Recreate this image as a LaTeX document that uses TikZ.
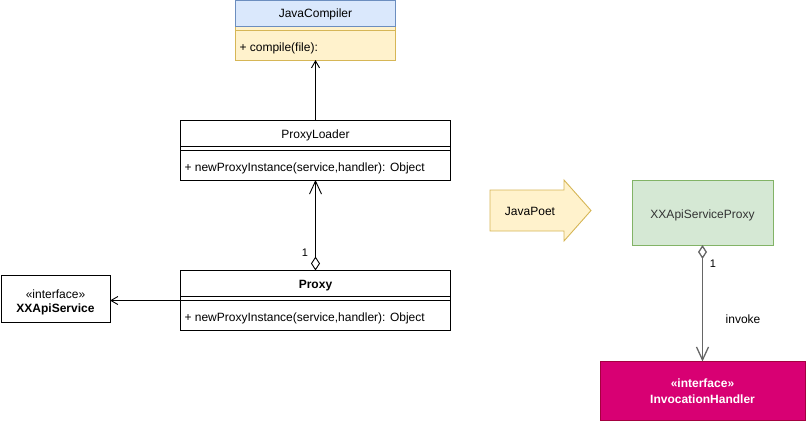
\documentclass[tikz,border=0pt]{standalone}
\usepackage{fontspec}
\setmainfont{Liberation Sans}
\usetikzlibrary{arrows.meta}
\definecolor{bluefill}{HTML}{DAE8FC}
\definecolor{bluestroke}{HTML}{6C8EBF}
\definecolor{yelfill}{HTML}{FFF2CC}
\definecolor{yelstroke}{HTML}{D6B656}
\definecolor{grnfill}{HTML}{D5E8D4}
\definecolor{grnstroke}{HTML}{82B366}
\definecolor{magfill}{HTML}{D80073}
\definecolor{magstroke}{HTML}{A50040}
\definecolor{darkline}{HTML}{666666}
\definecolor{darktext}{HTML}{333333}
\begin{document}
\begin{tikzpicture}[x=1pt,y=-1pt,
  font=\fontsize{12}{14}\selectfont,
  every node/.style={inner sep=0pt, outer sep=0pt, text height=11.7pt, text depth=2.6pt},
  classhead/.style={draw=black, fill=white, minimum height=26pt, anchor=north west},
  classbody/.style={draw=black, fill=white, minimum height=34pt, anchor=north west},
  member/.style={anchor=west},
  openarr/.style={-{Straight Barb[length=12pt,width=12pt]}},
  smallarr/.style={-{Straight Barb[length=7pt,width=8pt]}},
  diamarr/.style={{Diamond[open,length=14pt,width=9pt]}-{Straight Barb[length=13pt,width=12pt]}},
  line width=0.9pt]
\useasboundingbox (0,0) rectangle (806,421);

% JavaCompiler
\node[classbody, draw=yelstroke, fill=yelfill, minimum width=160pt] (jcb) at (235.5,26) {};
\node[classhead, draw=bluestroke, fill=bluefill, minimum width=160pt, minimum height=25.5pt] (jch) at (235.5,0.5) {JavaCompiler};
\draw[yelstroke] ([yshift=-4.5pt]jcb.north west) -- ([yshift=-4.5pt]jcb.north east);
\node[member] (jcm) at ([xshift=4pt,yshift=-21pt]jcb.north west) {+ compile(file):};

% ProxyLoader
\node[classhead, minimum width=270pt] (plh) at (180.5,120.5) {ProxyLoader};
\node[classbody, minimum width=270pt] (plb) at (180.5,146) {};
\draw ([yshift=-4.5pt]plb.north west) -- ([yshift=-4.5pt]plb.north east);
\node[member] (plm) at ([xshift=4pt,yshift=-21pt]plb.north west) {+ newProxyInstance(service,handler): Object};

% Proxy
\node[classhead, minimum width=270pt] (pxh) at (180.5,270.5) {\bfseries Proxy};
\node[classbody, minimum width=270pt] (pxb) at (180.5,296) {};
\draw ([yshift=-4.5pt]pxb.north west) -- ([yshift=-4.5pt]pxb.north east);
\node[member] (pxm) at ([xshift=4pt,yshift=-21pt]pxb.north west) {+ newProxyInstance(service,handler): Object};

% XXApiService
\node[draw=black, fill=white, minimum width=109pt, minimum height=47pt] (xas) at (55.5,298.5) {};
\node (xas1) at (55.5,293.5) {«interface»};
\node (xas2) at (55.5,308) {\bfseries XXApiService};

% connectors
\draw[smallarr] (plh.north) -- (jcb.south);
\draw[diamarr] (pxh.north) -- (plb.south);
\node (one1) at (305,251.5) {\fontsize{11}{13}\selectfont 1};
\draw[smallarr] ([yshift=-4.5pt]pxb.north west) coordinate (pxl) -- (pxl -| xas.east);

% JavaPoet arrow
\draw[yelstroke, fill=yelfill] (490,190) -- (564,190) -- (564,180) -- (591,210.5) -- (564,241) -- (564,231) -- (490,231) -- cycle;
\node (jp) at (530,211) {JavaPoet};

% XXApiServiceProxy
\node[draw=grnstroke, fill=grnfill, minimum width=141pt, minimum height=65pt] (xsp) at (702.5,212.5) {};
\node[text=darktext] (xspt) at (702.5,213.5) {XXApiServiceProxy};

% InvocationHandler
\node[draw=magstroke, fill=magfill, minimum width=205pt, minimum height=59pt] (ih) at (702.5,391) {};
\node[text=white] (ih1) at (702.5,382.5) {\bfseries «interface»};
\node[text=white] (ih2) at (702.5,398.5) {\bfseries InvocationHandler};

\draw[darkline, line width=1.3pt, diamarr] (xsp.south) -- (ih.north);
\node (one2) at (713,262.5) {\fontsize{11}{13}\selectfont 1};
\node (inv) at (743,318.5) {invoke};
\end{tikzpicture}
\end{document}
